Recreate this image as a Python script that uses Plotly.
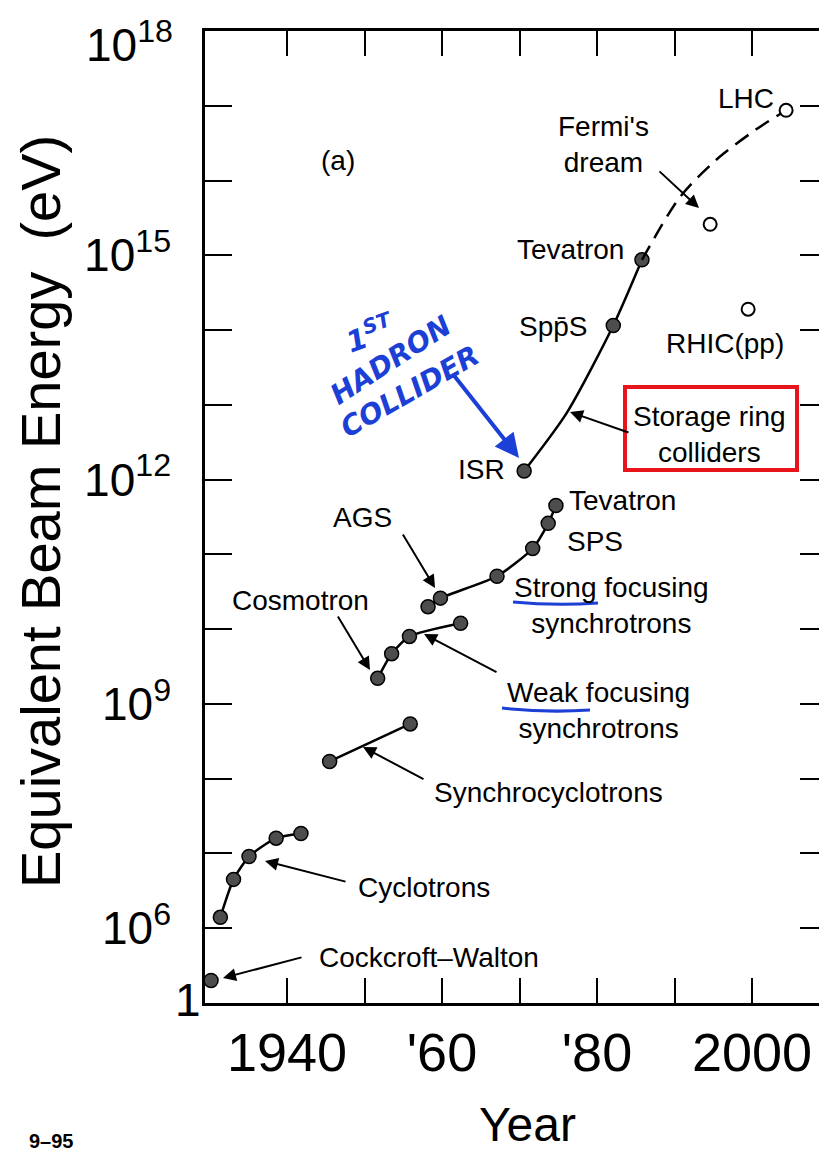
import plotly.graph_objects as go

# ---------------- data (year, equivalent beam energy in eV) ----------------
cw_year = [1930.2]
cw_energy = [2.0e5]

cyc_year = [1931.4, 1933.1, 1935.1, 1938.6, 1941.8]
cyc_energy = [1.4e6, 4.5e6, 9.1e6, 1.6e7, 1.85e7]

sc_year = [1945.5, 1955.9]
sc_energy = [1.7e8, 5.4e8]

weak_year = [1951.7, 1953.5, 1955.8, 1962.4]
weak_energy = [2.2e9, 4.7e9, 8.0e9, 1.2e10]

strong_year = [1958.2, 1959.8, 1967.1, 1971.7, 1973.7, 1974.7]
strong_energy = [2.0e10, 2.6e10, 5.1e10, 1.2e11, 2.6e11, 4.5e11]

coll_year = [1970.6, 1982.1, 1985.8]          # ISR, SppS, Tevatron
coll_energy = [1.3e12, 1.15e14, 8.7e14]
coll_curve_year = [1970.6, 1976.1, 1982.1, 1985.8]
coll_curve_energy = [1.3e12, 7.8e12, 1.15e14, 8.7e14]

proj_year = [1985.8, 1990.7, 1995.4, 2000.5, 2004.4]   # dashed extrapolation to LHC
proj_energy = [8.7e14, 6.0e15, 1.9e16, 4.8e16, 8.7e16]

open_year = [2004.4, 1994.6, 1999.5]          # LHC, Fermi's dream, RHIC(pp)
open_energy = [8.7e16, 2.6e15, 1.9e14]

x_tickvals = [1940, 1950, 1960, 1970, 1980, 1990, 2000]
x_ticktext = ["1940", "", "'60", "", "'80", "", "2000"]
y_tickvals = [1e6, 1e7, 1e8, 1e9, 1e10, 1e11, 1e12, 1e13, 1e14, 1e15, 1e16, 1e17]
y_ticktext = ["10<sup>6</sup>", "", "", "10<sup>9</sup>", "", "", "10<sup>12</sup>", "", "",
              "10<sup>15</sup>", "", ""]
y_top_label = "10<sup>18</sup>"
y_bottom_label = "1"

# ---------------- layout geometry ----------------
OFF = 8                       # page body margin
W, H = 827 - OFF, 1153 - OFF
L, R, T = 205 - OFF, 0, 31 - OFF
B = H - (1003 - OFF)
PW, PH = W - L - R, H - T - B
FONT = "Liberation Sans, Arial, sans-serif"


def px(x):
    return (x - OFF - L) / PW


def py(y):
    return (H - B - (y - OFF)) / PH


fig = go.Figure()

line_style = dict(color="black", width=2.5)
marker_style = dict(size=14, color="#4d4d4d", line=dict(color="black", width=1.5))

groups = [
    (cyc_year, cyc_energy),
    (sc_year, sc_energy),
    (weak_year, weak_energy),
    (strong_year, strong_energy),
]
fig.add_trace(go.Scatter(x=cw_year, y=cw_energy, mode="markers", marker=marker_style,
                         showlegend=False, hoverinfo="skip"))
for xs, ys in groups:
    fig.add_trace(go.Scatter(x=xs, y=ys, mode="lines+markers", line=dict(line_style, shape="spline", smoothing=0.6),
                             marker=marker_style, showlegend=False, hoverinfo="skip"))

fig.add_trace(go.Scatter(x=coll_curve_year, y=coll_curve_energy, mode="lines",
                         line=dict(line_style, shape="spline", smoothing=0.7),
                         showlegend=False, hoverinfo="skip"))
fig.add_trace(go.Scatter(x=coll_year, y=coll_energy, mode="markers", marker=marker_style,
                         showlegend=False, hoverinfo="skip"))
fig.add_trace(go.Scatter(x=proj_year, y=proj_energy, mode="lines",
                         line=dict(color="black", width=2.5, dash="16px,9px", shape="spline", smoothing=0.8),
                         showlegend=False, hoverinfo="skip"))
fig.add_trace(go.Scatter(x=open_year, y=open_energy, mode="markers",
                         marker=dict(size=13, color="white", line=dict(color="black", width=2)),
                         showlegend=False, hoverinfo="skip"))
# dummy trace for the right-hand tick axis
fig.add_trace(go.Scatter(x=[None], y=[None], yaxis="y2", showlegend=False, hoverinfo="skip"))

ann = []


def text(x, y, s, size=28, xanchor="left", color="black", angle=0, fam=FONT, **kw):
    ann.append(dict(x=px(x), y=py(y), xref="paper", yref="paper", text=s, showarrow=False,
                    xanchor=xanchor, yanchor="middle", textangle=angle,
                    font=dict(size=size, color=color, family=fam, **kw)))


def arrow(x0, y0, x1, y1, color="black", width=2, size=1.3, head=2):
    ann.append(dict(x=px(x1), y=py(y1), xref="paper", yref="paper", ax=x0 - x1, ay=y0 - y1,
                    axref="pixel", ayref="pixel", text="", showarrow=True, arrowhead=head,
                    arrowsize=size, arrowwidth=width, arrowcolor=color, standoff=0))


text(338, 160, "(a)", xanchor="center")
text(603, 145, "Fermi's<br>dream", xanchor="center")
text(746, 98, "LHC", xanchor="center")
text(570, 249, "Tevatron", xanchor="center")
text(553, 327, "Spp\u0304S", xanchor="center")
text(725, 344, "RHIC(pp)", xanchor="center")
text(631, 434, "Storage ring<br>colliders")
text(481, 470, "ISR", xanchor="center")
text(567, 500, "Tevatron")
text(565, 541, "SPS")
text(362, 517, "AGS", xanchor="center")
text(300, 600, "Cosmotron", xanchor="center")
text(512, 605, "Strong focusing<br>synchrotrons")
text(505, 710, "Weak focusing<br>synchrotrons")
text(432, 792, "Synchrocyclotrons")
text(356, 887, "Cyclotrons")
text(317, 957, "Cockcroft\u2013Walton")

arrow(658, 170, 699, 208)
arrow(630, 433, 570, 412)
arrow(402, 533, 435, 588)
arrow(337, 615, 370, 670)
arrow(498, 673, 424, 634)
arrow(425, 780, 363, 747)
arrow(347, 882, 265, 861)
arrow(303, 957, 223, 978)

# hand-written blue note
BLUE = "#1c3fd6"
HAND = "DejaVu Sans, sans-serif"
text(370, 333, "1<sup>ST</sup>", size=29, xanchor="center", color=BLUE, angle=-20, fam=HAND,
     weight="bold", style="italic")
text(390, 360, "HADRON", size=28, xanchor="center", color=BLUE, angle=-33, fam=HAND,
     weight="bold", style="italic")
text(410, 392, "COLLIDER", size=28, xanchor="center", color=BLUE, angle=-30, fam=HAND,
     weight="bold", style="italic")
arrow(452, 373, 519, 458, color=BLUE, width=4, size=1.2, head=2)

# axis texts
text(40, 512, "Equivalent Beam Energy\u00a0\u00a0(eV)", size=56, xanchor="center", angle=-90)
text(527, 1124, "Year", size=48, xanchor="center")
ann.append(dict(x=px(175), y=py(42), xref="paper", yref="paper", text=y_top_label, showarrow=False,
                xanchor="right", yanchor="middle", font=dict(size=46, family=FONT, color="black")))
text(188, 1000, y_bottom_label, size=46, xanchor="center")
text(27, 1141, "9\u201395", size=20, weight="bold")

shapes = [
    dict(type="rect", xref="paper", yref="paper", x0=px(625), x1=px(797), y0=py(387), y1=py(470),
         line=dict(color="#e8141b", width=4)),
    dict(type="path", xref="paper", yref="paper",
         path=f"M {px(513)} {py(602)} Q {px(555)} {py(606)} {px(598)} {py(603)}",
         line=dict(color=BLUE, width=3)),
    dict(type="path", xref="paper", yref="paper",
         path=f"M {px(502)} {py(708)} Q {px(546)} {py(713)} {px(590)} {py(710)}",
         line=dict(color=BLUE, width=3)),
]

yr = [5.0, 18.0]
fig.update_layout(
    width=W, height=H,
    margin=dict(l=L, r=R, t=T, b=B, pad=0),
    paper_bgcolor="white", plot_bgcolor="white",
    showlegend=False,
    font=dict(family=FONT, color="black"),
    annotations=ann, shapes=shapes,
    xaxis=dict(range=[1940 - 82 / 7.75, 1940 + 540 / 7.75], tickvals=x_tickvals, ticktext=x_ticktext,
               ticks="inside", ticklen=25, tickwidth=2.2, tickcolor="black",
               showline=True, linewidth=2.5, linecolor="black", mirror="ticks",
               showgrid=False, zeroline=False, tickfont=dict(size=54, family=FONT),
               ticklabelstandoff=0),
    yaxis=dict(type="log", range=yr, tickvals=y_tickvals, ticktext=y_ticktext,
               ticks="inside", ticklen=27, tickwidth=2.2, tickcolor="black",
               showline=True, linewidth=2.5, linecolor="black", mirror=False,
               showgrid=False, zeroline=False, tickfont=dict(size=46, family=FONT),
               ticklabelstandoff=22),
    yaxis2=dict(type="log", range=yr, overlaying="y", side="right", tickvals=y_tickvals,
                showticklabels=False, ticks="inside", ticklen=27, tickwidth=2.2, tickcolor="black",
                showline=False, showgrid=False, zeroline=False),
)

fig.write_html("out.html")
